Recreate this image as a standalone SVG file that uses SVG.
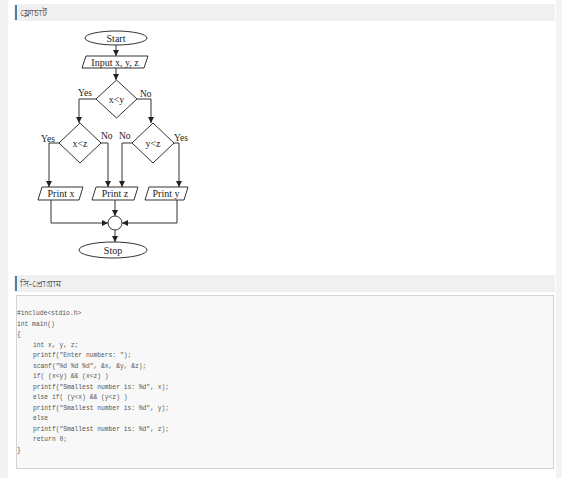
<svg xmlns="http://www.w3.org/2000/svg" width="562" height="478" viewBox="0 0 562 478">
<style>
.hbar{fill:#f0f0f0}
.hblue{fill:#4f7fa3}
.htxt{font-family:"Noto Sans","DejaVu Sans",sans-serif;font-size:9px;fill:#333}
.sh{fill:#fff;stroke:#333;stroke-width:1}
.t{font-family:"Liberation Serif",serif;font-size:10px;fill:#222;text-anchor:middle}
.lb{font-family:"Liberation Serif",serif;font-size:9.5px;fill:#222}
.c{fill:none;stroke:#333;stroke-width:1}
.code{font-family:"Liberation Mono","DejaVu Sans Mono",monospace;font-size:6.3px;fill:#555;white-space:pre}
</style>
<defs>
<marker id="ah" markerWidth="6" markerHeight="6" refX="6" refY="3" orient="auto" markerUnits="userSpaceOnUse">
<path d="M0,0 L6,3 L0,6 z" fill="#222"/>
</marker>
</defs>
<rect x="0" y="0" width="562" height="478" fill="#fff"/>
<rect x="0" y="0" width="8" height="478" fill="#f3f3f3"/>
<rect x="556" y="0" width="6" height="478" fill="#f3f3f3"/>

<g id="heading1">
<rect class="hbar" x="14" y="4" width="541" height="17"/>
<rect class="hblue" x="15" y="5" width="2" height="15"/>
<text class="htxt" x="20" y="16">ফ্লোচার্ট</text>
</g>

<g id="connectors">
<path class="c" d="M116,45 V56" marker-end="url(#ah)"/>
<path class="c" d="M116,68 V80" marker-end="url(#ah)"/>
<path class="c" d="M96,99 H79 V123" marker-end="url(#ah)"/>
<path class="c" d="M137,99 H151 V123" marker-end="url(#ah)"/>
<path class="c" d="M59,143 H49 V187" marker-end="url(#ah)"/>
<path class="c" d="M101,143 H108 V187" stroke="#999" marker-end="url(#ah)"/>
<path class="c" d="M132,143 H122 V187" marker-end="url(#ah)"/>
<path class="c" d="M174,143 H179 V187" marker-end="url(#ah)"/>
<path class="c" d="M51,200 V223 H108" marker-end="url(#ah)"/>
<path class="c" d="M115,200 V216" marker-end="url(#ah)"/>
<path class="c" d="M177,200 V223 H122" marker-end="url(#ah)"/>
<path class="c" d="M115,230 V242" stroke="#888" marker-end="url(#ah)"/>
</g>

<g id="start">
<ellipse class="sh" cx="116" cy="38" rx="31" ry="7"/>
<text class="t" x="116" y="41.5">Start</text>
</g>
<g id="input">
<polygon class="sh" points="86,56 148,56 144,68 82,68"/>
<text class="t" x="115" y="65.5">Input x, y, z</text>
</g>
<g id="dec_xy">
<polygon class="sh" points="116.5,80 137,99 116.5,118 96,99"/>
<text class="t" x="116.5" y="102.5">x&lt;y</text>
<text class="lb" x="78" y="96">Yes</text>
<text class="lb" x="140" y="97">No</text>
</g>
<g id="dec_xz">
<polygon class="sh" points="80,123 101,143 80,163 59,143"/>
<text class="t" x="80" y="146.5">x&lt;z</text>
<text class="lb" x="41" y="142">Yes</text>
<text class="lb" x="101" y="139">No</text>
</g>
<g id="dec_yz">
<polygon class="sh" points="153,123 174,143 153,163 132,143"/>
<text class="t" x="153" y="146.5">y&lt;z</text>
<text class="lb" x="119" y="139">No</text>
<text class="lb" x="174" y="141">Yes</text>
</g>
<g id="printx">
<polygon class="sh" points="42,187 83,187 79,200 38,200"/>
<text class="t" x="61" y="196.5">Print x</text>
</g>
<g id="printz">
<polygon class="sh" points="96,187 138,187 134,200 92,200"/>
<text class="t" x="115" y="196.5">Print z</text>
</g>
<g id="printy">
<polygon class="sh" points="149,187 188,187 184,200 145,200"/>
<text class="t" x="166" y="196.5">Print y</text>
</g>
<g id="join">
<circle class="sh" cx="115" cy="223" r="7"/>
</g>
<g id="stop">
<ellipse class="sh" cx="113" cy="250" rx="34" ry="8"/>
<text class="t" x="113" y="253.5">Stop</text>
</g>

<g id="heading2">
<rect class="hbar" x="14" y="275" width="541" height="17"/>
<rect class="hblue" x="15" y="276" width="2" height="15"/>
<text class="htxt" x="20" y="287">সি-প্রোগ্রাম</text>
</g>

<g id="codebox">
<rect x="16.5" y="295.5" width="537" height="173" fill="#f8f8f8" stroke="#d4d4d4"/>
<text class="code" x="17" y="315">#include&lt;stdio.h&gt;</text>
<text class="code" x="17" y="325.5">int main()</text>
<text class="code" x="17" y="336">{</text>
<text class="code" x="33" y="346.5">int x, y, z;</text>
<text class="code" x="33" y="357">printf("Enter numbers: ");</text>
<text class="code" x="33" y="367.5">scanf("%d %d %d", &amp;x, &amp;y, &amp;z);</text>
<text class="code" x="33" y="378">if( (x&lt;y) &amp;&amp; (x&lt;z) )</text>
<text class="code" x="33" y="388.5">printf("Smallest number is: %d", x);</text>
<text class="code" x="33" y="399">else if( (y&lt;x) &amp;&amp; (y&lt;z) )</text>
<text class="code" x="33" y="409.5">printf("Smallest number is: %d", y);</text>
<text class="code" x="33" y="420">else</text>
<text class="code" x="33" y="430.5">printf("Smallest number is: %d", z);</text>
<text class="code" x="33" y="441">return 0;</text>
<text class="code" x="17" y="451.5">}</text>
</g>
</svg>
